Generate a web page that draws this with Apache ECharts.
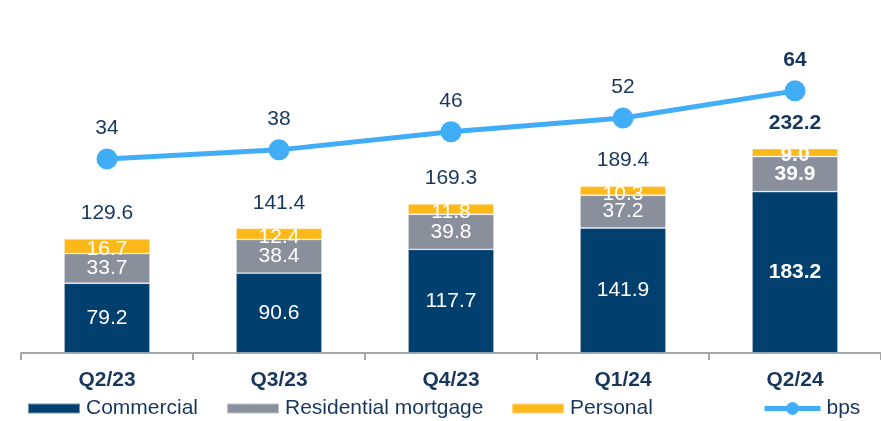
<!DOCTYPE html>
<html>
<head>
<meta charset="utf-8">
<script src="https://cdn.jsdelivr.net/npm/echarts@6/dist/echarts.min.js"></script>
<style>
  html, body { margin: 0; padding: 0; background: #fff; }
  #chart { width: 881px; height: 421px; }
</style>
</head>
<body>
<div id="chart"></div>
<script>
const quarters = ['Q2/23', 'Q3/23', 'Q4/23', 'Q1/24', 'Q2/24']
const commercial = [79.2, 90.6, 117.7, 141.9, 183.2]
const residential = [33.7, 38.4, 39.8, 37.2, 39.9]
const personal = [16.7, 12.4, 11.8, 10.3, 9.0]
const totals = [129.6, 141.4, 169.3, 189.4, 232.2]
const bps = [34, 38, 46, 52, 64]

const navy = '#003f6e'
const grey = '#8a8f9c'
const yellow = '#fcb919'
const sky = '#42adf7'
const textNavy = '#17375e'
const font = 'Arial, "Liberation Sans", sans-serif'

const last = quarters.length - 1

// last quarter gets bold labels
function withBold(values) {
  return values.map((v, i) => ({
    value: v,
    label: i === last ? { fontWeight: 'bold' } : {}
  }))
}

function stackBar(name, values, color, extraLabel) {
  return {
    name,
    type: 'bar',
    stack: 'loans',
    barWidth: '50%',
    data: withBold(values),
    itemStyle: { color, borderColor: 'rgba(255,255,255,0.45)', borderWidth: 0.8 },
    label: Object.assign({
      show: true,
      position: 'inside',
      color: '#fff',
      fontSize: 21,
      fontFamily: font,
      formatter: p => p.value.toFixed(1)
    }, extraLabel || {})
  }
}

function legendAt(left, name, w, h, icon) {
  return {
    data: [{ name, icon }],
    left,
    top: 398,
    padding: 0,
    itemWidth: w,
    itemHeight: h,
    itemGap: 0,
    lineStyle: { width: 5 },
    textStyle: { color: textNavy, fontSize: 21, fontFamily: font, padding: [0, 0, 0, 1] },
    selectedMode: false
  }
}

const chart = echarts.init(document.getElementById('chart'))

chart.setOption({
  animation: false,
  legend: [
    legendAt(27, 'Commercial', 52, 10, 'rect'),
    legendAt(226, 'Residential mortgage', 52, 10, 'rect'),
    legendAt(511, 'Personal', 52, 10, 'rect'),
    legendAt(762, 'bps', 56, 16)
  ],
  grid: { left: 21, top: 50, width: 863, height: 303 },
  xAxis: {
    type: 'category',
    data: quarters,
    axisLine: { lineStyle: { color: '#a6a6a6', width: 2 } },
    axisTick: { show: true, length: 7, lineStyle: { color: '#a6a6a6', width: 2 } },
    axisLabel: {
      margin: 17,
      color: textNavy,
      fontSize: 21,
      fontWeight: 'bold',
      fontFamily: font
    }
  },
  yAxis: [
    { type: 'value', min: 0, max: 344, show: false },
    { type: 'value', min: -51.5, max: 82, show: false }
  ],
  series: [
    stackBar('Commercial', commercial, navy),
    stackBar('Residential mortgage', residential, grey),
    stackBar('Personal', personal, yellow, { offset: [0, 3] }),
    {
      name: 'total',
      type: 'bar',
      barWidth: '50%',
      barGap: '-100%',
      data: withBold(totals),
      itemStyle: { color: 'rgba(0,0,0,0)' },
      z: 1,
      label: {
        show: true,
        position: 'top',
        distance: 15,
        color: textNavy,
        fontSize: 21,
        fontFamily: font,
        formatter: p => p.value.toFixed(1)
      }
    },
    {
      name: 'bps',
      type: 'line',
      yAxisIndex: 1,
      data: withBold(bps),
      symbol: 'circle',
      symbolSize: 21,
      lineStyle: { color: sky, width: 5 },
      itemStyle: { color: sky },
      label: {
        show: true,
        position: 'top',
        distance: 10,
        color: textNavy,
        fontSize: 21,
        fontFamily: font
      },
      z: 5
    }
  ]
})
</script>
</body>
</html>
